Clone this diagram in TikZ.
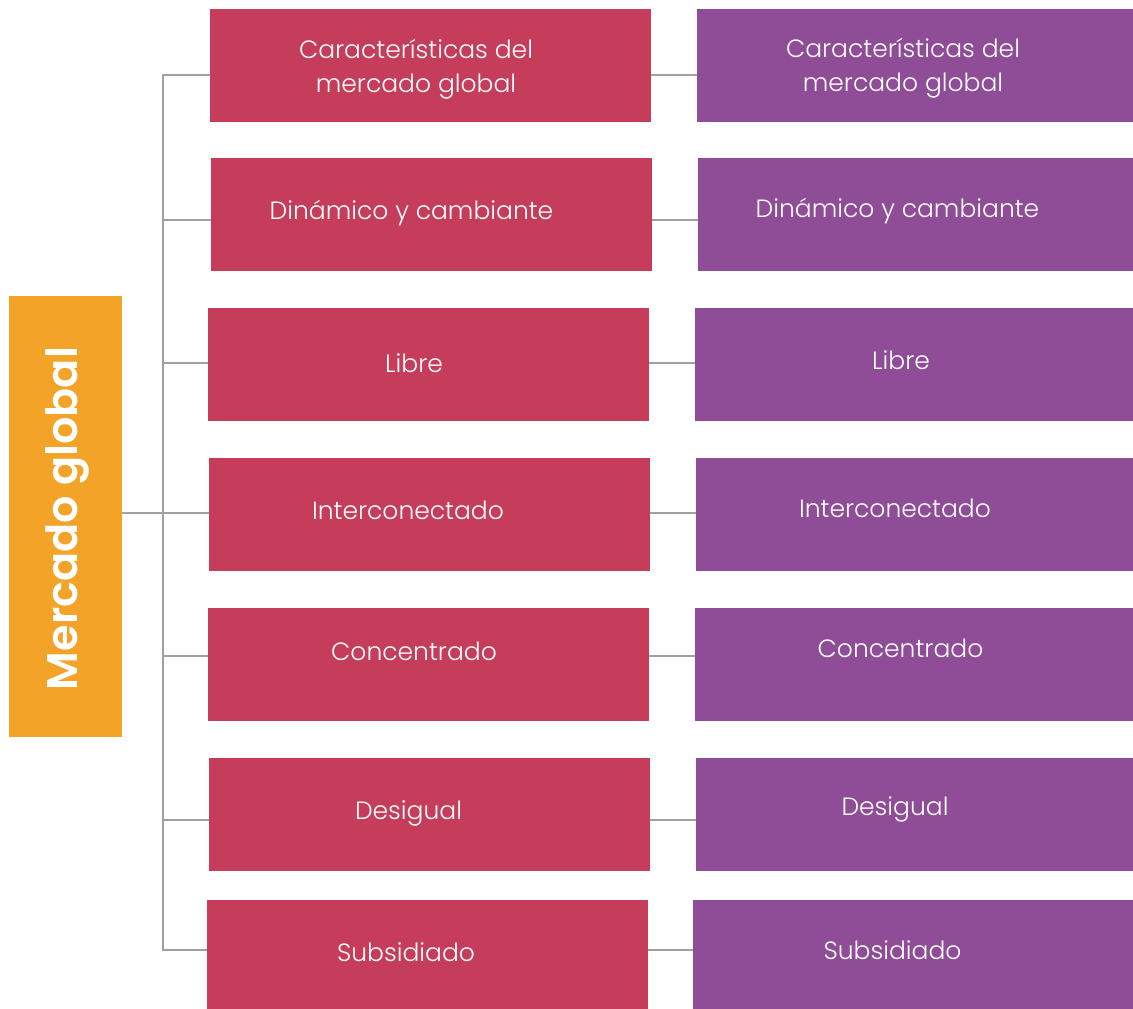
\documentclass[tikz,border=0pt]{standalone}
\usepackage{fontspec}
\setmainfont{Poppins}[UprightFont=* Light, BoldFont=* SemiBold]
\definecolor{cred}{HTML}{C53D5A}
\definecolor{cpurple}{HTML}{8E4D96}
\definecolor{corange}{HTML}{F4A329}
\definecolor{cline}{HTML}{A0A0A0}
\begin{document}
\begin{tikzpicture}[x=1pt,y=-1pt,
  box/.style={rectangle, inner sep=0pt, outer sep=0pt, draw=none, minimum width=441pt, minimum height=113pt},
  redbox/.style={box, fill=cred},
  purplebox/.style={box, fill=cpurple, minimum width=436pt},
  txt/.style={text=white, font=\fontsize{25}{34}\selectfont, align=center, inner sep=0pt},
  conn/.style={draw=cline, line width=2pt}]
\useasboundingbox (0,0) rectangle (1133,1009);
% root
\node[rectangle, fill=corange, minimum width=113pt, minimum height=441pt, inner sep=0pt, outer sep=0pt,
  label={[text=white, font=\fontsize{43}{43}\selectfont\bfseries, rotate=90, xshift=-2pt, yshift=-2pt]center:Mercado global}] (o) at (65.5,516.5) {};
% red column
\node[redbox, label={[txt, xshift=-14.5pt, yshift=-4pt]center:Características del\\mercado global}] (r1) at (430.5,65.5) {};
\node[redbox, label={[txt, xshift=-20pt, yshift=1pt]center:Dinámico y cambiante}] (r2) at (431.5,214.5) {};
\node[redbox, label={[txt, xshift=-14.5pt, yshift=1pt]center:Libre}] (r3) at (428.5,364.5) {};
\node[redbox, label={[txt, xshift=-21.5pt, yshift=4pt]center:Interconectado}] (r4) at (429.5,514.5) {};
\node[redbox, label={[txt, xshift=-14.5pt, yshift=13pt]center:Concentrado}] (r5) at (428.5,664.5) {};
\node[redbox, label={[txt, xshift=-21pt, yshift=1.5pt]center:Desigual}] (r6) at (429.5,814.5) {};
\node[redbox, minimum height=109pt, label={[txt, xshift=-21.5pt, yshift=2.5pt]center:Subsidiado}] (r7) at (427.5,954.5) {};
% purple column
\node[purplebox, label={[txt, xshift=-12pt, yshift=-3pt]center:Características del\\mercado global}] (p1) at (915,65.5) {};
\node[purplebox, minimum width=435pt, label={[txt, xshift=-18pt, yshift=3.5pt]center:Dinámico y cambiante}] (p2) at (915.5,214.5) {};
\node[purplebox, minimum width=438pt, label={[txt, xshift=-13pt, yshift=4pt]center:Libre}] (p3) at (914,364.5) {};
\node[purplebox, minimum width=437pt, label={[txt, xshift=-19.5pt, yshift=6pt]center:Interconectado}] (p4) at (914.5,514.5) {};
\node[purplebox, minimum width=438pt, label={[txt, xshift=-13.5pt, yshift=16pt]center:Concentrado}] (p5) at (914,664.5) {};
\node[purplebox, minimum width=437pt, label={[txt, xshift=-19.5pt, yshift=5.5pt]center:Desigual}] (p6) at (914.5,814.5) {};
\node[purplebox, minimum width=440pt, minimum height=109pt, label={[txt, xshift=-20.5pt, yshift=4pt]center:Subsidiado}] (p7) at (913,954.5) {};
% spine points
\coordinate (j) at (163,513);
\coordinate (s1) at (163,75);
\coordinate (s2) at (163,220);
\coordinate (s3) at (163,363);
\coordinate (s4) at (163,513);
\coordinate (s5) at (163,656);
\coordinate (s6) at (163,820);
\coordinate (s7) at (163,950);
% connectors
\draw[conn] (o.east |- j) -- (j);
\draw[conn] (s1 -| r1.west) -- (s1) -- (s7) -- (s7 -| r7.west);
\foreach \i in {2,...,6} {\draw[conn] (s\i) -- (s\i -| r\i.west);}
\foreach \i in {1,...,7} {\draw[conn] (s\i -| r\i.east) -- (s\i -| p\i.west);}
\end{tikzpicture}
\end{document}
